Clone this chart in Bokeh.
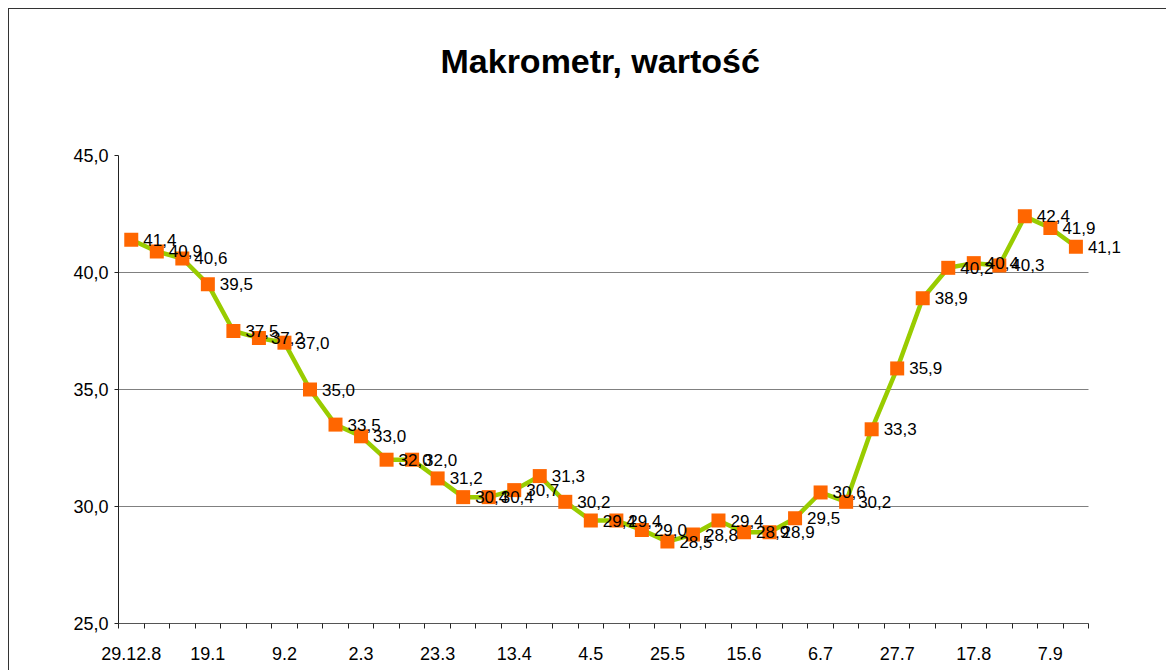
import numpy as np
from bokeh.plotting import figure
from bokeh.models import FixedTicker, ColumnDataSource, Range1d, Grid, Title
from bokeh.core.properties import value
from bokeh.embed import file_html
from bokeh.resources import INLINE

# ---- data ----
values = [41.4, 40.9, 40.6, 39.5, 37.5, 37.2, 37.0, 35.0, 33.5, 33.0,
          32.0, 32.0, 31.2, 30.4, 30.4, 30.7, 31.3, 30.2, 29.4, 29.4,
          29.0, 28.5, 28.8, 29.4, 28.9, 28.9, 29.5, 30.6, 30.2, 33.3,
          35.9, 38.9, 40.2, 40.4, 40.3, 42.4, 41.9, 41.1]
date_labels = ["29.12.8", "19.1", "9.2", "2.3", "23.3", "13.4", "4.5",
               "25.5", "15.6", "6.7", "27.7", "17.8", "7.9"]
y_ticks = [25, 30, 35, 40, 45]
y_tick_labels = ["25,0", "30,0", "35,0", "40,0", "45,0"]
title_text = "Makrometr, wartość"

FONT = "Liberation Sans"

n = len(values)
x = np.arange(n) + 0.5
labels = [f"{v:.1f}".replace(".", ",") for v in values]
src = ColumnDataSource(dict(x=x, y=values, lab=labels))

# extra room on the right so data labels past the last category are not clipped
x_end = n + 2.5
p = figure(width=1158, height=662, output_backend="svg", toolbar_location=None,
           x_range=Range1d(0, x_end), y_range=Range1d(25, 45),
           min_border_left=109, min_border_right=15, min_border_top=146,
           min_border_bottom=48)
p.styles = {"border-left": "1px solid #333333", "border-top": "1px solid #333333",
            "margin-left": "8px", "margin-top": "8px"}
p.background_fill_color = "white"
p.border_fill_color = "white"
p.outline_line_color = None
p.title.text = ""

# spacer between frame and title, then the title itself
p.add_layout(Title(text=" ", text_font_size="1px", standoff=68), "above")
p.add_layout(Title(text=title_text, align="left", offset=322, standoff=10,
                   text_font=FONT, text_font_style="bold", text_font_size="34px",
                   text_color="black"), "above")

# y axis
p.yaxis.ticker = FixedTicker(ticks=y_ticks)
p.yaxis.major_label_overrides = {t: l for t, l in zip(y_ticks, y_tick_labels)}
p.yaxis.major_label_text_font = FONT
p.yaxis.major_label_text_font_size = "18px"
p.yaxis.major_label_text_color = "black"
p.yaxis.major_tick_out = 4
p.yaxis.major_tick_in = 0
p.yaxis.minor_tick_out = 0
p.yaxis.minor_tick_in = 0
p.yaxis.major_label_standoff = 6
p.yaxis.axis_line_color = "#222222"
p.yaxis.major_tick_line_color = "#222222"

# x axis: labels at every third category, ticks at category boundaries
label_pos = [float(x[i]) for i in range(0, n, 3)]
p.xaxis.ticker = FixedTicker(ticks=label_pos, minor_ticks=list(range(0, n + 1)))
p.xaxis.bounds = (0, n)
p.xaxis.major_label_overrides = {pos: lab for pos, lab in zip(label_pos, date_labels)}
p.xaxis.major_label_text_font = FONT
p.xaxis.major_label_text_font_size = "18px"
p.xaxis.major_label_text_color = "black"
p.xaxis.major_tick_out = 0
p.xaxis.major_tick_in = 0
p.xaxis.minor_tick_out = 5
p.xaxis.minor_tick_in = 0
p.xaxis.major_label_standoff = 18
p.xaxis.axis_line_color = "#555555"
p.xaxis.minor_tick_line_color = "#222222"

# grid
p.xgrid.visible = False
p.ygrid.ticker = FixedTicker(ticks=[30, 35, 40])
p.ygrid.grid_line_color = "#808080"
p.ygrid.grid_line_width = 1
p.ygrid.cross_bounds = (0, n)
top_grid = Grid(dimension=1, ticker=FixedTicker(ticks=[45]), grid_line_color="#eeeeee",
                cross_bounds=(0, n))
p.add_layout(top_grid)

# series
p.line("x", "y", source=src, line_color="#99CC00", line_width=4.5)
p.scatter("x", "y", source=src, marker="square", size=14, fill_color="#FF6600",
          line_color=None)
p.text("x", "y", text="lab", source=src, x_offset=12, text_baseline="middle",
       text_align="left", text_font=value(FONT), text_font_size="17px",
       text_color="black")

open("out.html", "w").write(file_html(p, INLINE))
